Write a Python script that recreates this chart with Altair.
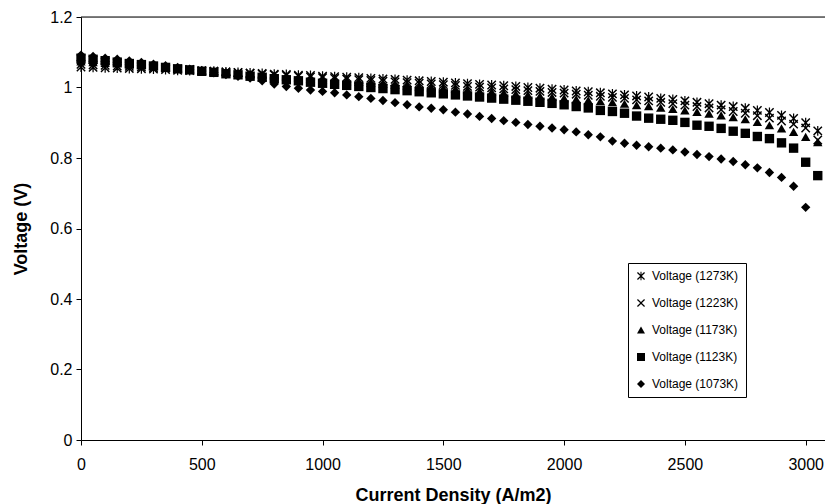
import altair as alt
import pandas as pd

current = [i * 50 for i in range(62)]  # 0 .. 3050 A/m2

v1273 = [1.058, 1.057, 1.056, 1.055, 1.054, 1.053, 1.052, 1.051, 1.049, 1.048,
         1.047, 1.046, 1.044, 1.043, 1.041, 1.040, 1.038, 1.037, 1.035, 1.034,
         1.032, 1.031, 1.029, 1.028, 1.026, 1.024, 1.023, 1.021, 1.019, 1.017,
         1.015, 1.013, 1.011, 1.009, 1.007, 1.005, 1.003, 1.000, 0.998, 0.995,
         0.993, 0.990, 0.988, 0.985, 0.982, 0.979, 0.976, 0.973, 0.969, 0.966,
         0.962, 0.958, 0.954, 0.950, 0.946, 0.941, 0.935, 0.929, 0.921, 0.912,
         0.900, 0.877]

v1223 = [1.066, 1.064, 1.063, 1.061, 1.060, 1.058, 1.056, 1.055, 1.053, 1.051,
         1.048, 1.046, 1.044, 1.042, 1.040, 1.038, 1.036, 1.034, 1.032, 1.030,
         1.028, 1.026, 1.024, 1.022, 1.020, 1.018, 1.016, 1.014, 1.012, 1.010,
         1.008, 1.006, 1.003, 1.001, 0.999, 0.996, 0.994, 0.991, 0.989, 0.986,
         0.984, 0.981, 0.978, 0.975, 0.972, 0.969, 0.965, 0.962, 0.958, 0.954,
         0.950, 0.946, 0.942, 0.937, 0.932, 0.927, 0.920, 0.913, 0.905, 0.896,
         0.885, 0.851]

v1173 = [1.074, 1.072, 1.070, 1.068, 1.065, 1.063, 1.061, 1.058, 1.056, 1.053,
         1.050, 1.047, 1.045, 1.042, 1.039, 1.036, 1.034, 1.031, 1.028, 1.026,
         1.023, 1.021, 1.018, 1.016, 1.013, 1.011, 1.008, 1.006, 1.003, 1.001,
         0.998, 0.996, 0.993, 0.990, 0.988, 0.985, 0.982, 0.979, 0.976, 0.973,
         0.970, 0.967, 0.964, 0.961, 0.958, 0.954, 0.950, 0.947, 0.943, 0.939,
         0.935, 0.931, 0.926, 0.921, 0.916, 0.910, 0.902, 0.893, 0.884, 0.874,
         0.860, 0.845]

v1123 = [1.083, 1.080, 1.076, 1.072, 1.068, 1.065, 1.061, 1.057, 1.053, 1.050,
         1.046, 1.043, 1.039, 1.036, 1.032, 1.029, 1.025, 1.022, 1.019, 1.015,
         1.012, 1.009, 1.006, 1.003, 1.000, 0.997, 0.994, 0.991, 0.988, 0.985,
         0.982, 0.979, 0.976, 0.973, 0.970, 0.967, 0.964, 0.961, 0.958, 0.955,
         0.951, 0.946, 0.942, 0.935, 0.932, 0.927, 0.919, 0.913, 0.910, 0.907,
         0.901, 0.893, 0.890, 0.884, 0.876, 0.870, 0.861, 0.855, 0.843, 0.828,
         0.788, 0.750]

v1073 = [1.092, 1.088, 1.083, 1.080, 1.075, 1.071, 1.066, 1.062, 1.057, 1.052,
         1.047, 1.042, 1.037, 1.032, 1.027, 1.019, 1.010, 1.003, 0.998, 0.993,
         0.989, 0.985, 0.979, 0.974, 0.969, 0.963, 0.957, 0.951, 0.945, 0.941,
         0.937, 0.930, 0.925, 0.918, 0.912, 0.906, 0.901, 0.895, 0.890, 0.885,
         0.880, 0.874, 0.866, 0.860, 0.848, 0.842, 0.836, 0.832, 0.828, 0.823,
         0.817, 0.810, 0.804, 0.797, 0.790, 0.781, 0.772, 0.759, 0.745, 0.720,
         0.660]

series_names = ["Voltage (1273K)", "Voltage (1223K)", "Voltage (1173K)",
                "Voltage (1123K)", "Voltage (1073K)"]
series_values = [v1273, v1223, v1173, v1123, v1073]

x_ticks = [0, 500, 1000, 1500, 2000, 2500, 3000]
y_ticks = [0, 0.2, 0.4, 0.6, 0.8, 1.0, 1.2]

rows = []
for name, vals in zip(series_names, series_values):
    for i, v in zip(current, vals):
        rows.append({"I": i, "V": v, "series": name})
df = pd.DataFrame(rows)

# filled outline shapes (so they render in both plot and legend)
xmark = ("M-1,-0.78L-0.78,-1L0,-0.22L0.78,-1L1,-0.78L0.22,0L1,0.78L0.78,1"
         "L0,0.22L-0.78,1L-1,0.78L-0.22,0Z")
asterisk = xmark + "M-0.13,-1.05L0.13,-1.05L0.13,1.05L-0.13,1.05Z"
shapes = [asterisk, xmark, "triangle-up", "square", "diamond"]

W, H = 744, 423
FONT = "Liberation Sans"

points = alt.Chart(df).mark_point(
    filled=True, fill="black", opacity=1, size=88
).encode(
    x=alt.X("I:Q", scale=alt.Scale(domain=[0, 3080], nice=False, zero=True),
            axis=alt.Axis(title="Current Density (A/m2)", values=x_ticks, format="d",
                          grid=False, domainColor="black", tickColor="black", tickSize=5,
                          labelPadding=11, labelFontSize=16, titleFontSize=18,
                          titleFontWeight="bold", labelFont=FONT, titleFont=FONT,
                          labelColor="black", titleColor="black", labelFlush=False,
                          titleY=55, titleBaseline="middle")),
    y=alt.Y("V:Q", scale=alt.Scale(domain=[0, 1.2], nice=False),
            axis=alt.Axis(title="Voltage (V)", values=y_ticks,
                          format=".1~f", grid=False, domainColor="black", tickColor="black",
                          tickSize=5, labelPadding=4, labelFontSize=16,
                          titleFontSize=18, titleFontWeight="bold", labelFont=FONT,
                          titleFont=FONT, labelColor="black", titleColor="black",
                          labelFlush=False, titleX=-60, titleBaseline="middle")),
    shape=alt.Shape("series:N", scale=alt.Scale(domain=series_names, range=shapes),
                    legend=alt.Legend(title=None, orient="none", legendX=547, legendY=246,
                                      strokeColor="black", padding=7, rowPadding=15,
                                      labelFont=FONT, labelFontSize=12, labelColor="black",
                                      symbolSize=64, symbolFillColor="black",
                                      symbolStrokeColor="black", symbolStrokeWidth=0,
                                      symbolOpacity=1, labelOffset=5, fillColor="white")),
    order=alt.Order("series:N"),
)

top_line = alt.Chart(pd.DataFrame({"a": [0]})).mark_rule(color="black", strokeWidth=1).encode(
    x=alt.value(0), x2=alt.value(W), y=alt.value(0)
)

chart = alt.layer(points, top_line).properties(
    width=W, height=H,
    autosize=alt.AutoSizeParams(type="none"),
    padding={"left": 81, "top": 17, "right": 0, "bottom": 64},
).configure_view(stroke=None).configure(background="white")

chart.save("out.html", embed_options={"renderer": "svg", "actions": False})
